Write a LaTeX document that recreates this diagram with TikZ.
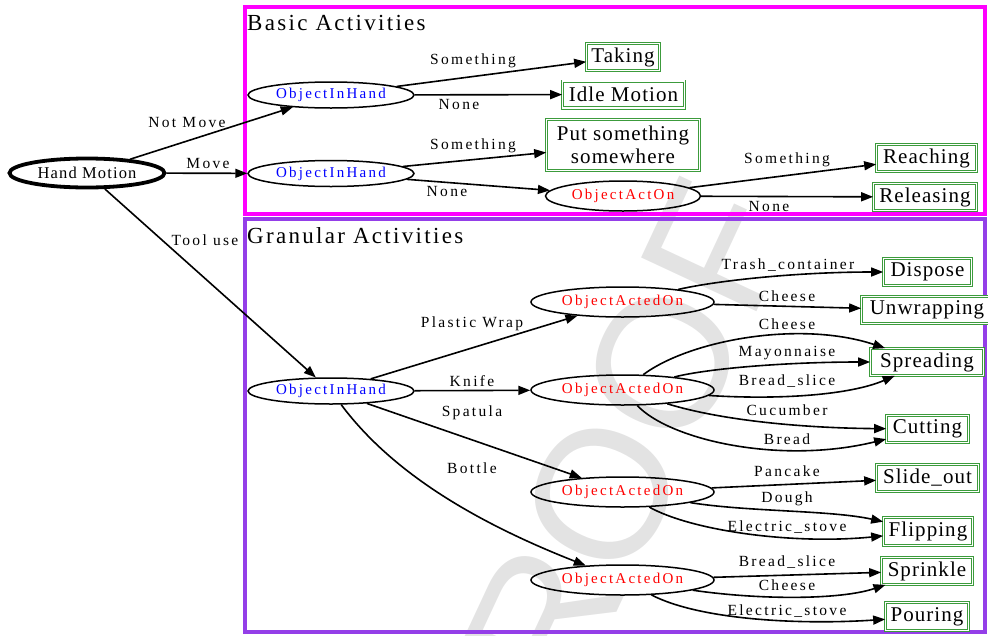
\documentclass[tikz,border=0pt]{standalone}
\usepackage{fontspec}
\setmainfont{Liberation Serif}
\newfontfamily\edgefont[LetterSpace=15]{Liberation Serif}
\newfontfamily\ellfont[LetterSpace=15]{Liberation Serif}
\newfontfamily\rootfont[LetterSpace=7]{Liberation Serif}
\newfontfamily\boxfont[LetterSpace=5]{Liberation Serif}
\newfontfamily\titlefont[LetterSpace=10]{Liberation Serif}
\newfontfamily\markfont{Liberation Sans}
\usetikzlibrary{shapes.geometric,arrows.meta}

\definecolor{gbox}{RGB}{60,155,60}
\definecolor{clmag}{RGB}{255,0,255}
\definecolor{clpur}{RGB}{148,62,232}

\tikzset{
  ell/.style={ellipse, draw, line width=1.5pt, inner sep=0pt,
    font=\ellfont\fontsize{15}{17}\selectfont},
  objin/.style={ell, text=blue, minimum width=166pt, minimum height=26pt},
  objon/.style={ell, text=red, minimum width=183pt, minimum height=30pt},
  act/.style={rectangle, draw=gbox, double=white, double distance=1.4pt,
    line width=0.9pt, fill=white, inner sep=1pt, minimum height=26.8pt,
    font=\boxfont\fontsize{21}{23}\selectfont},
  elab/.style={font=\edgefont\fontsize{15.5}{17}\selectfont, inner sep=0pt},
  conn/.style={line width=1.6pt, -{Triangle[length=12pt,width=9pt]}},
  cluster/.style={line width=3.5pt},
  ctitle/.style={anchor=base west, inner sep=0pt,
    font=\titlefont\fontsize{23}{25}\selectfont},
}

\begin{document}
\begin{tikzpicture}[x=1pt,y=-1pt]
\useasboundingbox (0,0) rectangle (988,635);

% faint background stamp
\node[text=black!11, rotate=65, inner sep=0pt,
  font=\markfont\fontsize{185}{185}\selectfont] (stamp) at (602,494) {PROOF};

% clusters
\draw[cluster, clmag] (245,7) rectangle (985,214);
\draw[cluster, clpur] (245,219) rectangle (985,632);
\node[ctitle] (tbasic) at (247,30) {Basic Activities};
\node[ctitle] (tgran) at (247,243) {Granular Activities};

% root
\node[ellipse, draw, line width=3.8pt, inner sep=0pt, minimum width=155pt,
  minimum height=29pt, font=\rootfont\fontsize{16.5}{18}\selectfont]
  (hm) at (87,173) {Hand Motion};

% basic activities
\node[objin] (oih1) at (331,95) {ObjectInHand};
\node[objin] (oih2) at (331,173.5) {ObjectInHand};
\node[ell, text=red, minimum width=155pt, minimum height=30pt] (oaob) at (623,196) {ObjectActOn};
\node[act, minimum width=72.8pt] (taking) at (623,57) {Taking};
\node[act, minimum width=121.8pt] (idle) at (623.5,94.5) {Idle Motion};
\node[act, minimum width=152.8pt, minimum height=50.8pt, align=center] (put) at (623,145)
  {Put something\\[0pt] somewhere};
\node[act, minimum width=99.8pt] (reach) at (926.5,158) {Reaching};
\node[act, minimum width=102.8pt] (release) at (925,197) {Releasing};

% granular activities
\node[objin] (oih3) at (331,391) {ObjectInHand};
\node[objon] (oao1) at (622.5,302) {ObjectActedOn};
\node[objon] (oao2) at (622.5,390) {ObjectActedOn};
\node[objon] (oao3) at (622.5,492) {ObjectActedOn};
\node[objon] (oao4) at (622.5,580) {ObjectActedOn};
\node[act, minimum width=87.8pt] (dispose) at (927.5,272) {Dispose};
\node[act, minimum width=130.8pt] (unwrap) at (927,310) {Unwrapping};
\node[act, minimum width=112.8pt] (spread) at (927,362) {Spreading};
\node[act, minimum width=81.8pt] (cut) at (927.5,429) {Cutting};
\node[act, minimum width=101.8pt] (slide) at (927.5,478) {Slide\_out};
\node[act, minimum width=88.8pt, minimum height=27.8pt] (flip) at (928,531.5) {Flipping};
\node[act, minimum width=90.8pt] (sprinkle) at (927,571) {Sprinkle};
\node[act, minimum width=82.8pt, minimum height=27.8pt] (pour) at (927,616.5) {Pouring};

% connectors from the root
\draw[conn] (hm) -- (oih1);
\draw[conn] (hm) -- (oih2);
\draw[conn] (hm) -- (oih3);
\node[elab] (lnm) at (187,122) {Not Move};
\node[elab] (lmv) at (208,163) {Move};
\node[elab] (ltu) at (205,240) {Tool use};

% basic connectors
\draw[conn] (oih1) -- (taking);
\draw[conn] (oih1) -- (idle);
\draw[conn] (oih2) -- (put);
\draw[conn] (oih2) -- (oaob);
\draw[conn] (oaob) -- (reach);
\draw[conn] (oaob) -- (release);
\node[elab] (l1) at (473,61) {Something};
\node[elab] (l2) at (459,104) {None};
\node[elab] (l3) at (473,146) {Something};
\node[elab] (l4) at (447,191) {None};
\node[elab] (l5) at (787,160) {Something};
\node[elab] (l6) at (769,206) {None};

% granular connectors: tools
\draw[conn] (oih3) -- (oao1);
\draw[conn] (oih3) -- (oao2);
\draw[conn] (oih3) -- (oao3);
\draw[conn] (oih3) .. controls (390,470) and (470,520) .. (oao4);
\node[elab] (lpw) at (472,324) {Plastic Wrap};
\node[elab] (lkn) at (472,381) {Knife};
\node[elab] (lsp) at (472,413) {Spatula};
\node[elab] (lbo) at (472,468) {Bottle};

% plastic wrap
\draw[conn] (oao1) .. controls (720,280) and (800,272) .. (dispose);
\draw[conn] (oao1) -- (unwrap);
\node[elab] (la1) at (788,265) {Trash\_container};
\node[elab] (la2) at (787,296) {Cheese};

% knife
\draw[conn] (oao2) .. controls (690,340) and (800,320) .. (spread);
\draw[conn] (oao2) .. controls (710,368) and (790,362) .. (spread);
\draw[conn] (oao2) .. controls (780,400) and (850,395) .. (spread);
\draw[conn] (oao2) .. controls (720,420) and (800,428) .. (cut);
\draw[conn] (oao2) .. controls (670,440) and (780,465) .. (cut);
\node[elab] (lb1) at (787,324) {Cheese};
\node[elab] (lb2) at (787,353) {Mayonnaise};
\node[elab] (lb3) at (787,381) {Bread\_slice};
\node[elab] (lb4) at (787,410) {Cucumber};
\node[elab] (lb5) at (787,439) {Bread};

% spatula
\draw[conn] (oao3) -- (slide);
\draw[conn] (oao3) .. controls (750,512) and (830,510) .. (flip);
\draw[conn] (oao3) .. controls (690,530) and (790,545) .. (flip);
\node[elab] (lc1) at (787,471) {Pancake};
\node[elab] (lc2) at (787,499) {Dough};
\node[elab] (lc3) at (787,527) {Electric\_stove};

% bottle
\draw[conn] (oao4) -- (sprinkle);
\draw[conn] (oao4) .. controls (760,600) and (840,600) .. (sprinkle);
\draw[conn] (oao4) .. controls (700,620) and (800,625) .. (pour);
\node[elab] (ld1) at (787,562) {Bread\_slice};
\node[elab] (ld2) at (787,585) {Cheese};
\node[elab] (ld3) at (787,611) {Electric\_stove};
\end{tikzpicture}
\end{document}
